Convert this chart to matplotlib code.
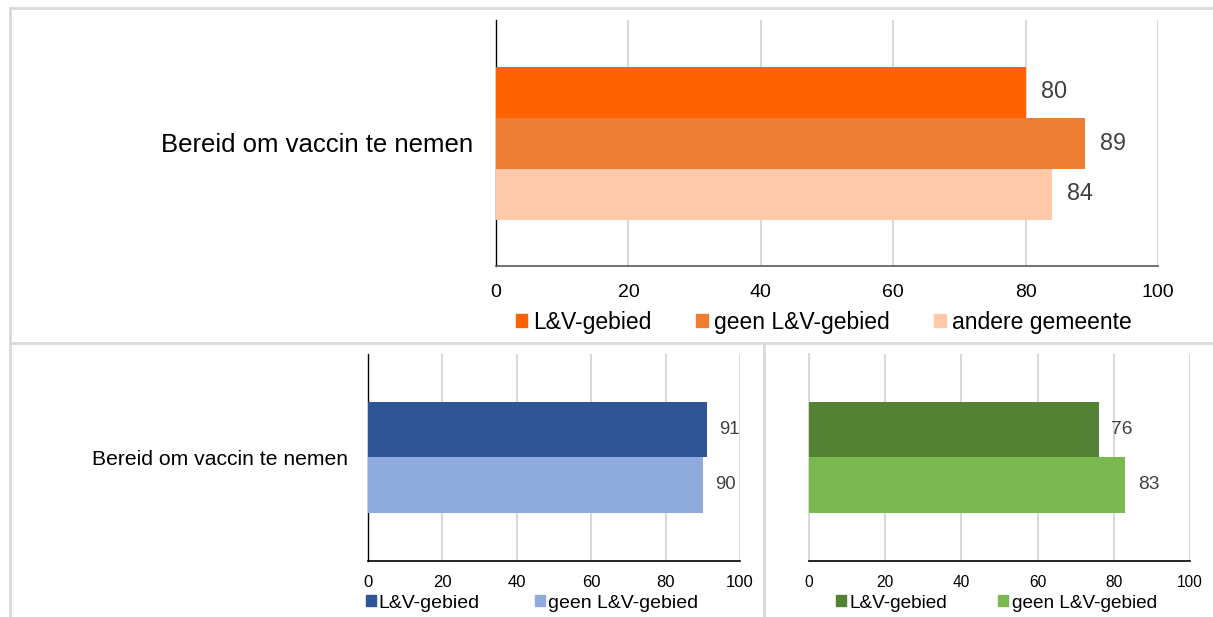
import matplotlib.pyplot as plt
from matplotlib.patches import Patch
from matplotlib.lines import Line2D

plt.rcParams['font.family'] = ['Liberation Sans', 'DejaVu Sans']

# ------------------------------
# DATA
# ------------------------------
category = 'Bereid om vaccin te nemen'
ticks = [0, 20, 40, 60, 80, 100]

top_series = ['L&V-gebied', 'geen L&V-gebied', 'andere gemeente']
top_values = [80, 89, 84]
top_colors = ['#FF6200', '#ED7D31', '#FFC8A8']

left_series = ['L&V-gebied', 'geen L&V-gebied']
left_values = [91, 90]
left_colors = ['#2F5597', '#8FAADC']

right_series = ['L&V-gebied', 'geen L&V-gebied']
right_values = [76, 83]
right_colors = ['#548235', '#7AB850']

W, H = 1213, 617
GRID = '#d9d9d9'


def box(x0, y0, x1, y1):
    """Rectangle en pixels (origine en haut a gauche) -> coordonnees figure."""
    return [x0 / W, 1 - y1 / H, (x1 - x0) / W, (y1 - y0) / H]


def draw_panel(ax, values, colors, bar_h, tick_fs, lab_fs, lab_off, tick_pad,
               cat_fs=None, cat_pad=0, bottom_color='black', left_color='black'):
    n = len(values)
    offsets = [(i - (n - 1) / 2) * bar_h for i in range(n)]
    for v, c, o in zip(values, colors, offsets):
        ax.barh(o, v, height=bar_h, color=c, zorder=3)
        ax.annotate(str(v), (v, o), xytext=(lab_off, 0), textcoords='offset points',
                    va='center', ha='left', fontsize=lab_fs, color='#404040',
                    annotation_clip=False)
    ax.set_xlim(0, 100)
    ax.set_ylim(0.5, -0.5)
    ax.set_xticks(ticks)
    ax.xaxis.grid(True, color=GRID, lw=1.5, zorder=0)
    ax.tick_params(axis='x', length=0, labelsize=tick_fs, pad=tick_pad)
    if cat_fs:
        ax.set_yticks([0])
        ax.set_yticklabels([category], fontsize=cat_fs)
        ax.tick_params(axis='y', length=0, pad=cat_pad)
    else:
        ax.set_yticks([])
    for s in ['top', 'right']:
        ax.spines[s].set_visible(False)
    ax.spines['left'].set_color(left_color)
    ax.spines['left'].set_linewidth(1.0 if left_color == 'black' else 1.5)
    ax.spines['bottom'].set_color(bottom_color)
    ax.spines['bottom'].set_linewidth(1.2)
    ax.spines['bottom'].set_zorder(4)


fig = plt.figure(figsize=(W / 100, H / 100), dpi=100)

# cadres gris
for xs, ys in [([10, W], [7.5, 7.5]), ([10, 10], [7.5, H]),
               ([10, W], [342.5, 342.5]), ([763.5, 763.5], [344, H])]:
    fig.add_artist(Line2D([x / W for x in xs], [1 - y / H for y in ys],
                          color=GRID, lw=2))

# graphique du haut
ax1 = fig.add_axes(box(496, 20, 1158, 266))
draw_panel(ax1, top_values, top_colors, 51 / 246, 14, 16.8, 11, 13,
           cat_fs=18.5, cat_pad=16.5, bottom_color='#595959')
fig.legend([Patch(color=c) for c in top_colors], top_series, loc='center left',
           bbox_to_anchor=(516 / W, 1 - 322 / H), ncol=3, frameon=False,
           fontsize=16.5, handlelength=0.5, handleheight=0.5, handletextpad=0.26,
           columnspacing=1.95, borderpad=0, borderaxespad=0)

# graphique en bas a gauche
ax2 = fig.add_axes(box(368, 354, 740, 561))
draw_panel(ax2, left_values, left_colors, 55 / 207, 12, 13.3, 9, 10,
           cat_fs=15.2, cat_pad=14.4)
fig.legend([Patch(color=c) for c in left_colors], left_series, loc='center left',
           bbox_to_anchor=(366 / W, 1 - 603 / H), ncol=2, frameon=False,
           fontsize=14, handlelength=0.5, handleheight=0.5, handletextpad=0.16,
           columnspacing=2.85, borderpad=0, borderaxespad=0)

# graphique en bas a droite
ax3 = fig.add_axes(box(809, 354, 1190, 561))
draw_panel(ax3, right_values, right_colors, 55 / 207, 11.2, 13.8, 9, 10,
           left_color=GRID)
fig.legend([Patch(color=c) for c in right_colors], right_series, loc='center left',
           bbox_to_anchor=(836 / W, 1 - 603 / H), ncol=2, frameon=False,
           fontsize=13.7, handlelength=0.5, handleheight=0.5, handletextpad=0.2,
           columnspacing=2.7, borderpad=0, borderaxespad=0)

fig.savefig('out.png', dpi=100)
